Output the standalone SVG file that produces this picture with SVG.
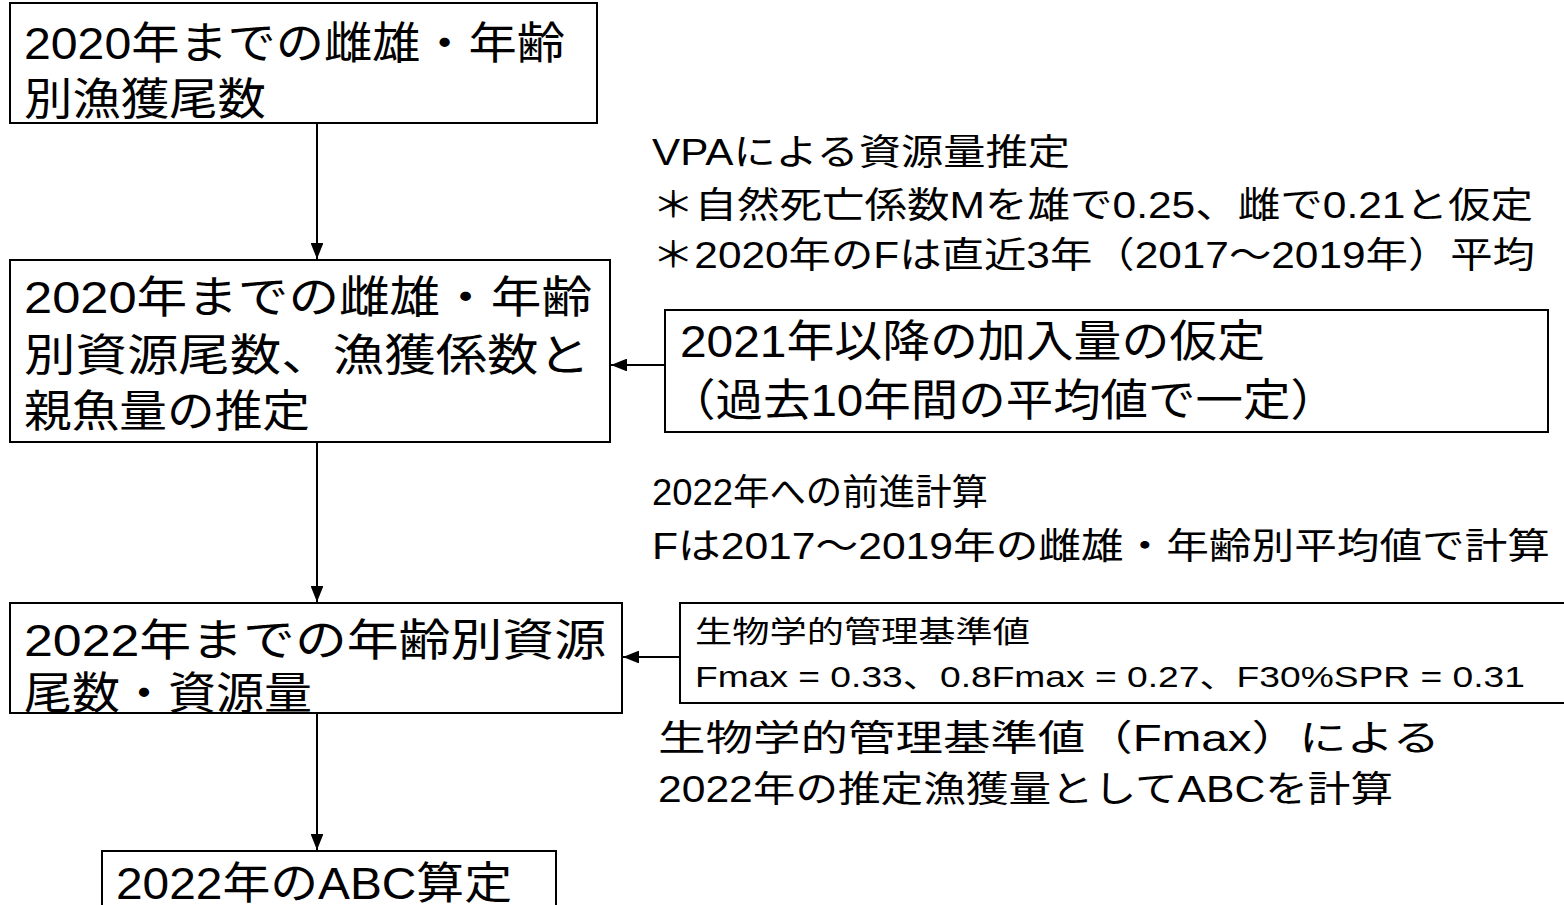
<svg xmlns="http://www.w3.org/2000/svg" width="1564" height="905" viewBox="0 0 1564 905">
<defs>
<style>
.box{fill:#fff;stroke:#000;stroke-width:2}
.t{font-family:"Liberation Sans","Noto Sans CJK JP",sans-serif;fill:#000}
.big{font-size:44px}
.mid{font-size:36px}
.sm{font-size:30px}
.con{stroke:#000;stroke-width:2;fill:none;marker-end:url(#ah)}
</style>
<marker id="ah" viewBox="0 0 10 8" refX="10" refY="4" markerWidth="8" markerHeight="6.4" markerUnits="strokeWidth" orient="auto">
<path d="M0,0 L10,4 L0,8 z" fill="#000"/>
</marker>
</defs>
<rect width="1564" height="905" fill="#fff"/>
<g id="connectors">
<line class="con" x1="317" y1="123" x2="317" y2="259"/>
<line class="con" x1="665" y1="365" x2="611" y2="365"/>
<line class="con" x1="317" y1="442" x2="317" y2="602"/>
<line class="con" x1="680" y1="657" x2="623" y2="657"/>
<line class="con" x1="317" y1="713" x2="317" y2="850"/>
</g>
<g id="n1">
<rect class="box" x="10" y="3" width="587" height="120"/>
<text class="t big" x="24" y="59" textLength="541" lengthAdjust="spacingAndGlyphs">2020年までの雌雄・年齢</text>
<text class="t big" x="24" y="115" textLength="242" lengthAdjust="spacingAndGlyphs">別漁獲尾数</text>
</g>
<g id="n2">
<rect class="box" x="10" y="260" width="600" height="182"/>
<text class="t big" x="24" y="313" textLength="568" lengthAdjust="spacingAndGlyphs">2020年までの雌雄・年齢</text>
<text class="t big" x="24" y="371" textLength="566" lengthAdjust="spacingAndGlyphs">別資源尾数、漁獲係数と</text>
<text class="t big" x="24" y="427" textLength="286" lengthAdjust="spacingAndGlyphs">親魚量の推定</text>
</g>
<g id="n3">
<rect class="box" x="665" y="310" width="883" height="122"/>
<text class="t big" x="680" y="357" textLength="585" lengthAdjust="spacingAndGlyphs">2021年以降の加入量の仮定</text>
<text class="t big" x="668" y="416" textLength="670" lengthAdjust="spacingAndGlyphs">（過去10年間の平均値で一定）</text>
</g>
<g id="note1">
<text class="t mid" x="652" y="165" textLength="418" lengthAdjust="spacingAndGlyphs">VPAによる資源量推定</text>
<text class="t mid" x="652" y="218" textLength="881" lengthAdjust="spacingAndGlyphs">＊自然死亡係数Mを雄で0.25、雌で0.21と仮定</text>
<text class="t mid" x="652" y="268" textLength="883" lengthAdjust="spacingAndGlyphs">＊2020年のFは直近3年（2017〜2019年）平均</text>
</g>
<g id="note2">
<text class="t mid" x="652" y="505" textLength="336" lengthAdjust="spacingAndGlyphs">2022年への前進計算</text>
<text class="t mid" x="652" y="559" textLength="898" lengthAdjust="spacingAndGlyphs">Fは2017〜2019年の雌雄・年齢別平均値で計算</text>
</g>
<g id="n4">
<rect class="box" x="10" y="603" width="612" height="110"/>
<text class="t big" x="24" y="656" textLength="582" lengthAdjust="spacingAndGlyphs">2022年までの年齢別資源</text>
<text class="t big" x="24" y="709" textLength="288" lengthAdjust="spacingAndGlyphs">尾数・資源量</text>
</g>
<g id="n5">
<rect class="box" x="680" y="603" width="890" height="100"/>
<text class="t sm" x="695" y="642" textLength="335" lengthAdjust="spacingAndGlyphs">生物学的管理基準値</text>
<text class="t sm" x="695" y="687" textLength="830" lengthAdjust="spacingAndGlyphs">Fmax = 0.33、0.8Fmax = 0.27、F30%SPR = 0.31</text>
</g>
<g id="note3">
<text class="t mid" x="658" y="751" textLength="782" lengthAdjust="spacingAndGlyphs">生物学的管理基準値（Fmax）による</text>
<text class="t mid" x="658" y="802" textLength="735" lengthAdjust="spacingAndGlyphs">2022年の推定漁獲量としてABCを計算</text>
</g>
<g id="n6">
<rect class="box" x="102" y="851" width="454" height="70"/>
<text class="t big" x="116" y="899" textLength="396" lengthAdjust="spacingAndGlyphs">2022年のABC算定</text>
</g>
</svg>
